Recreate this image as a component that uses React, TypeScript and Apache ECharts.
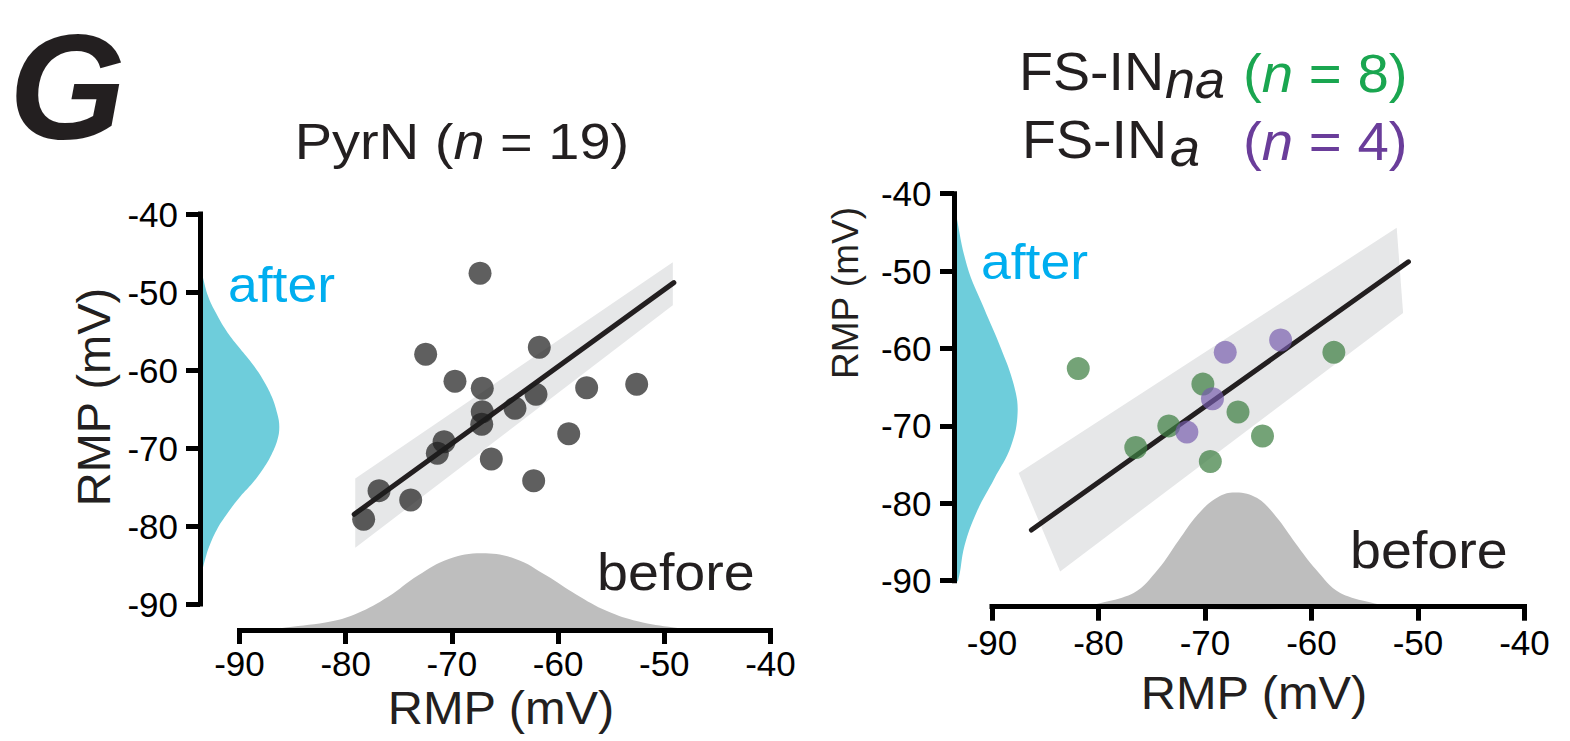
import React, { useEffect, useRef } from "react";
import * as echarts from "echarts";

const FONT = "'Liberation Sans', Arial, Helvetica, sans-serif";

// shared axis scale (mV)
const AXIS_MIN = -90;
const AXIS_MAX = -40;
const AXIS_STEP = 10;

// ---------- PyrN (n = 19) ----------
const pyrBefore = [-67.35, -72.47, -61.77, -69.71, -67.14, -57.31, -52.6, -62.08, -67.14, -64.06, -67.19, -70.74, -71.37, -59.0, -66.29, -62.3, -76.86, -73.88, -78.31];
const pyrAfter = [-47.6, -57.99, -57.09, -61.45, -62.35, -62.27, -61.83, -63.12, -65.35, -64.91, -66.96, -69.19, -70.68, -68.17, -71.41, -74.19, -75.47, -76.67, -79.14];
const pyrFitX = [-79.2, -49.1];
const pyrFitY = [-78.5, -48.8];
const pyrBandX = [-79.1, -49.2, -49.2, -79.1];
const pyrBandY = [-73.9, -46.2, -51.7, -82.8];
// marginal densities (value in mV, height in px units)
const pyrAfterDensV = [-46.5, -48.0, -50.6, -52.7, -54.9, -57.0, -59.1, -61.3, -63.4, -65.6, -67.3, -69.0, -71.1, -72.8, -74.5, -76.2, -78.4, -80.5, -82.7, -84.8, -86.5];
const pyrAfterDensW = [0, 2.7, 8.3, 16, 26, 38.3, 51.7, 63.3, 71.7, 77.3, 79.3, 77.3, 70.5, 62.5, 52.5, 40.5, 27.3, 16.7, 9, 4, 0];
const pyrBeforeDensV = [-88, -85.65, -81.3, -78.9, -76.0, -73.2, -70.3, -67.2, -64.0, -61.1, -58.3, -55.4, -52.5, -49.1, -46.5];
const pyrBeforeDensH = [0, 2.5, 8.7, 16.7, 33.3, 54.5, 71.1, 76.8, 71.1, 54.5, 35.6, 19, 8.7, 2.5, 0];

// ---------- FS-IN ----------
const naBefore = [-81.9, -70.2, -66.9, -73.4, -76.5, -64.6, -69.5, -57.9];
const naAfter = [-62.6, -64.6, -68.2, -70.0, -72.8, -71.3, -74.6, -60.5];
const aBefore = [-68.1, -62.9, -69.3, -71.7];
const aAfter = [-60.5, -58.9, -66.5, -70.8];
const fsFitX = [-86.3, -50.9];
const fsFitY = [-83.45, -48.8];
const fsBandX = [-87.5, -52.0, -51.4, -83.6];
const fsBandY = [-76.1, -44.4, -55.4, -88.8];
const fsAfterDensV = [-41.0, -41.9, -49.3, -54.8, -60.0, -64.6, -68.3, -72.6, -76.9, -81.1, -85.5, -90, -90];
const fsAfterDensW = [0, 1, 13, 30, 47, 59.6, 63.6, 57, 40, 22.8, 10.5, 4, 0];
const fsBeforeDensV = [-80.4, -76.7, -74.4, -72.5, -70.7, -68.8, -67.1, -65.1, -63.3, -61.5, -59.6, -57.3, -53.6];
const fsBeforeDensH = [0, 13, 36.7, 65.2, 91.3, 108.8, 113.6, 107.9, 89, 62.8, 36.7, 13, 0];

const C_DARK = "#231f20";
const C_AFTER_FILL = "#6ecddb";
const C_AFTER_TEXT = "#00aeef";
const C_BEFORE_FILL = "#bebebe";
const C_BAND = "#e6e7e8";
const C_PYR = "rgba(28,28,28,0.88)";
const C_NA = "rgba(62,128,66,0.9)";
const C_A = "rgba(118,92,172,0.85)";
const C_NA_TEXT = "#1aa650";
const C_A_TEXT = "#6a3d9a";

function polygonSeries(xIdx: number, yIdx: number, xs: number[], ys: number[], fill: string, smooth: number, z: number) {
  const data = xs.map((x, i) => [x, ys[i]]);
  return {
    type: "custom",
    xAxisIndex: xIdx,
    yAxisIndex: yIdx,
    silent: true,
    z,
    data,
    renderItem: (params: any, api: any) => {
      if (params.dataIndex !== 0) return null;
      const pts = data.map((d) => api.coord(d));
      return {
        type: "polygon",
        shape: { points: pts, smooth },
        style: { fill },
      };
    },
  };
}

function mainAxis(gridIndex: number, position: string, offset: number, margin: number) {
  return {
    type: "value",
    gridIndex,
    position,
    offset,
    min: AXIS_MIN,
    max: AXIS_MAX,
    interval: AXIS_STEP,
    z: 10,
    axisLine: { show: true, onZero: false, lineStyle: { color: "#000", width: 5, cap: "square" } },
    axisTick: { show: true, length: 14, lineStyle: { color: "#000", width: 5 } },
    axisLabel: { fontSize: 35, color: "#000", fontFamily: FONT, margin },
    splitLine: { show: false },
  };
}

function hiddenAxis(gridIndex: number, min: number, max: number) {
  return { type: "value", gridIndex, min, max, show: false, splitLine: { show: false } };
}

function txt(text: string, x: number, y: number, size: number, fill: string, align = "left", extra: any = {}) {
  const { style: extraStyle, ...rest } = extra;
  return {
    type: "text",
    x,
    y,
    z: 20,
    ...rest,
    style: {
      text,
      fontSize: size,
      fontFamily: FONT,
      fill,
      align,
      textAlign: align,
      verticalAlign: "middle",
      textVerticalAlign: "middle",
      ...(extraStyle || {}),
    },
  };
}

function richTxt(text: string, x: number, y: number, rich: any, align = "left", extra: any = {}) {
  return {
    type: "text",
    x,
    y,
    z: 20,
    ...extra,
    style: {
      text,
      rich,
      align,
      textAlign: align,
      verticalAlign: "middle",
      textVerticalAlign: "middle",
    },
  };
}

function rs(size: number, color: string, italic = false) {
  return { fontSize: size, fontFamily: FONT, fill: color, color, fontStyle: italic ? "italic" : "normal" };
}

export default function App() {
  const ref = useRef<HTMLDivElement>(null);
  useEffect(() => {
    if (!ref.current) return;
    const chart = echarts.init(ref.current, undefined, { renderer: "svg" });
    const option: any = {
      animation: false,
      backgroundColor: "#ffffff",
      grid: [
        { left: 239.5, top: 214, width: 531, height: 390 },
        { left: 200, top: 214, width: 100, height: 390 },
        { left: 239.5, top: 530, width: 531, height: 100 },
        { left: 992, top: 193.7, width: 532.5, height: 387 },
        { left: 954, top: 193.7, width: 100, height: 387 },
        { left: 992, top: 506, width: 532.5, height: 100 },
      ],
      xAxis: [
        mainAxis(0, "bottom", 26, 16),
        hiddenAxis(1, 0, 100),
        hiddenAxis(2, AXIS_MIN, AXIS_MAX),
        mainAxis(3, "bottom", 26, 18),
        hiddenAxis(4, 0, 100),
        hiddenAxis(5, AXIS_MIN, AXIS_MAX),
      ],
      yAxis: [
        mainAxis(0, "left", 39.5, 22),
        hiddenAxis(1, AXIS_MIN, AXIS_MAX),
        hiddenAxis(2, 0, 100),
        mainAxis(3, "left", 38, 22.5),
        hiddenAxis(4, AXIS_MIN, AXIS_MAX),
        hiddenAxis(5, 0, 100),
      ],
      series: [
        // PyrN panel
        polygonSeries(2, 2, pyrBeforeDensV, pyrBeforeDensH, C_BEFORE_FILL, 0.4, 1),
        polygonSeries(1, 1, pyrAfterDensW, pyrAfterDensV, C_AFTER_FILL, 0.4, 1),
        polygonSeries(0, 0, pyrBandX, pyrBandY, C_BAND, 0, 1),
        {
          type: "line",
          xAxisIndex: 0,
          yAxisIndex: 0,
          data: pyrFitX.map((x, i) => [x, pyrFitY[i]]),
          showSymbol: false,
          symbol: "none",
          z: 2,
          lineStyle: { color: C_DARK, width: 5, cap: "round" },
        },
        {
          type: "scatter",
          xAxisIndex: 0,
          yAxisIndex: 0,
          data: pyrBefore.map((x, i) => [x, pyrAfter[i]]),
          symbolSize: 23,
          z: 3,
          itemStyle: { color: C_PYR },
        },
        // FS-IN panel
        polygonSeries(5, 5, fsBeforeDensV, fsBeforeDensH, C_BEFORE_FILL, 0.4, 1),
        polygonSeries(4, 4, fsAfterDensW, fsAfterDensV, C_AFTER_FILL, 0.4, 1),
        polygonSeries(3, 3, fsBandX, fsBandY, C_BAND, 0, 1),
        {
          type: "line",
          xAxisIndex: 3,
          yAxisIndex: 3,
          data: fsFitX.map((x, i) => [x, fsFitY[i]]),
          showSymbol: false,
          symbol: "none",
          z: 2,
          lineStyle: { color: C_DARK, width: 5, cap: "round" },
        },
        {
          type: "scatter",
          name: "FS-INna",
          xAxisIndex: 3,
          yAxisIndex: 3,
          data: naBefore.map((x, i) => [x, naAfter[i]]),
          symbolSize: 23,
          z: 3,
          itemStyle: { color: C_NA },
        },
        {
          type: "scatter",
          name: "FS-INa",
          xAxisIndex: 3,
          yAxisIndex: 3,
          data: aBefore.map((x, i) => [x, aAfter[i]]),
          symbolSize: 23,
          z: 4,
          itemStyle: { color: C_A },
        },
      ],
      graphic: [
        txt("G", 9, 87, 150, C_DARK, "left", { style: { fontWeight: "bold", fontStyle: "italic" } }),
        richTxt(
          "{r|PyrN (}{i|n}{r| = 19)}",
          462,
          142,
          { r: rs(50, C_DARK), i: rs(50, C_DARK, true) },
          "center",
          { scaleX: 1.12 }
        ),
        txt("FS-IN", 1019, 71, 54, C_DARK, "left", { scaleX: 1.03 }),
        txt("na", 1165, 79, 54, C_DARK, "left", { style: { fontStyle: "italic" } }),
        richTxt("{r|(}{i|n}{r| = 8)}", 1243, 73, { r: rs(54, C_NA_TEXT), i: rs(54, C_NA_TEXT, true) }, "left", { scaleX: 1.045 }),
        txt("FS-IN", 1022, 139, 54, C_DARK, "left", { scaleX: 1.03 }),
        txt("a", 1170, 147, 54, C_DARK, "left", { style: { fontStyle: "italic" } }),
        richTxt("{r|(}{i|n}{r| = 4)}", 1243, 141, { r: rs(54, C_A_TEXT), i: rs(54, C_A_TEXT, true) }, "left", { scaleX: 1.045 }),
        txt("after", 228, 285, 50, C_AFTER_TEXT, "left", { scaleX: 1.07 }),
        txt("before", 597, 572, 52, C_DARK, "left", { scaleX: 1.07 }),
        txt("after", 981, 262, 50, C_AFTER_TEXT, "left", { scaleX: 1.07 }),
        txt("before", 1350, 550, 52, C_DARK, "left", { scaleX: 1.07 }),
        txt("RMP (mV)", 501, 708, 46, C_DARK, "center", { scaleX: 1.06 }),
        txt("RMP (mV)", 93, 397, 47, C_DARK, "center", { rotation: Math.PI / 2 }),
        txt("RMP (mV)", 1254, 693, 46, C_DARK, "center", { scaleX: 1.06 }),
        txt("RMP (mV)", 845, 293, 37, C_DARK, "center", { rotation: Math.PI / 2 }),
      ],
    };
    chart.setOption(option);
    return () => chart.dispose();
  }, []);
  return <div ref={ref} style={{ position: "fixed", left: 0, top: 0, width: 1570, height: 741 }} />;
}
